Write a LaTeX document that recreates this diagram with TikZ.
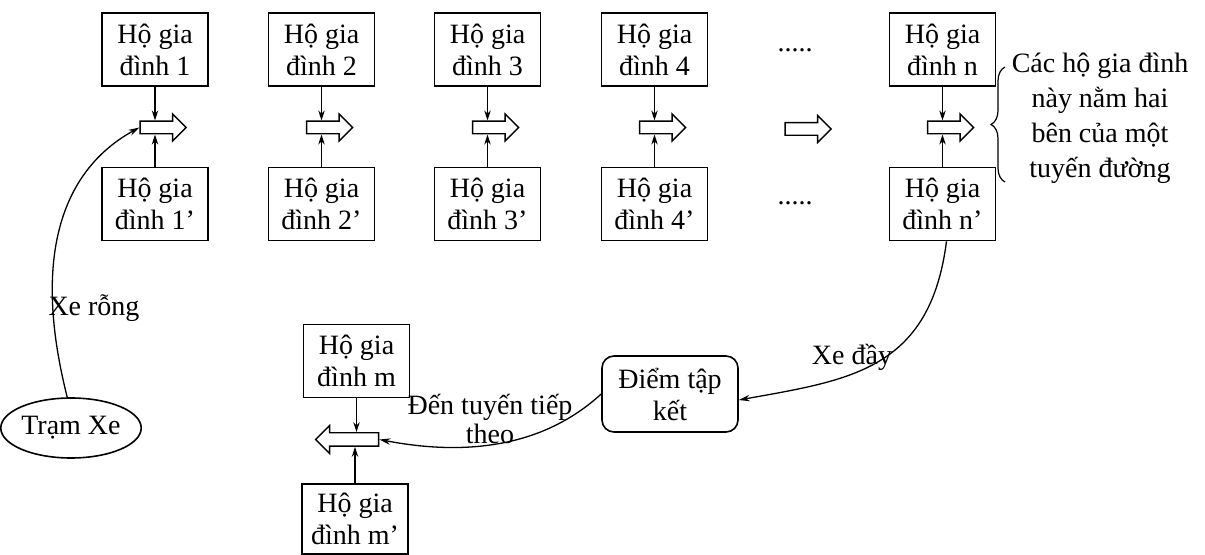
\documentclass[tikz,border=0pt]{standalone}
\usepackage{fontspec}
\setmainfont{Liberation Serif}
\usetikzlibrary{shapes.geometric,shapes.arrows,arrows.meta,decorations.pathreplacing,calc}
\begin{document}
\begin{tikzpicture}[x=0.5pt,y=-0.5pt,
  every node/.style={font=\fontsize{14}{16}\selectfont},
  hbox/.style={draw,line width=0.8pt,minimum width=53pt,minimum height=36.5pt,align=center,inner sep=0pt},
  fatR/.style={single arrow,draw,line width=0.7pt,minimum height=23pt,single arrow head extend=3.6pt,inner xsep=0pt,inner ysep=2.8pt,single arrow tip angle=90},
  vert/.style={line width=0.6pt,-{Stealth[length=5pt,width=3.2pt]}},
  flow/.style={line width=0.65pt,-{Stealth[length=5.5pt,width=3.2pt]}}]
\useasboundingbox (0,0) rectangle (1205,555);
\foreach \cx/\k in {155/1,321.5/2,487.5/3,654.5/4,942.5/n}{
  \node[hbox] (b\k) at (\cx,49.5) {Hộ gia\\đình \k};
  \node[hbox] (c\k) at (\cx,204) {Hộ gia\\đình \k’};
  \node[fatR] (f\k) at (\cx+5,127.5) {};
  \draw[vert] (b\k.south) -- (b\k.south |- f\k.north);
  \draw[vert] (c\k.north) -- (c\k.north |- f\k.south);
}
\node[fatR] (fmid) at (805,129) {};
\node[anchor=base] (d1) at (795,52) {.....};
\node[anchor=base] (d2) at (795,205) {.....};
\coordinate (br1) at (1005,182);
\coordinate (br2) at (1005,67);
\draw[line width=0.6pt,decorate,decoration={brace,amplitude=7pt}] (br1) -- (br2);
\node[align=center,font=\fontsize{14}{17.5}\selectfont] (note) at (1100,118) {Các hộ gia đình\\này nằm hai\\bên của một\\tuyến đường};
\node[ellipse,draw,line width=0.8pt,minimum width=61pt,minimum height=30pt,inner sep=0pt] (tram) at (71,428) {Trạm Xe};
\draw[flow] (tram.97) .. controls (25,230) and (80,160) .. (f1.tail);
\node (xr) at (94,308) {Xe rỗng};
\node[draw,rounded corners=6pt,line width=0.8pt,minimum width=68pt,minimum height=38pt,align=center,inner sep=0pt] (diem) at (670,394) {Điểm tập\\kết};
\draw[flow] ([xshift=2pt]cn.south) .. controls (930,370) and (850,380) .. (diem.-5);
\node (xd) at (852,357) {Xe đầy};
\node[hbox] (bm) at (356.5,361) {Hộ gia\\đình m};
\node[hbox,minimum height=35pt] (cm) at (355,519) {Hộ gia\\đình m’};
\node[fatR,minimum height=31.5pt,inner ysep=3pt,shape border rotate=180] (fm) at (350.5,439.5) {};
\draw[vert] (bm.south) -- (bm.south |- fm.north);
\draw[vert] (cm.north) -- (cm.north |- fm.south);
\draw[flow] (diem.west) .. controls (540,450) and (460,455) .. (fm.tail);
\node[align=center,font=\fontsize{14}{14.5}\selectfont] (dt) at (490,419) {Đến tuyến tiếp\\theo};
\end{tikzpicture}
\end{document}
